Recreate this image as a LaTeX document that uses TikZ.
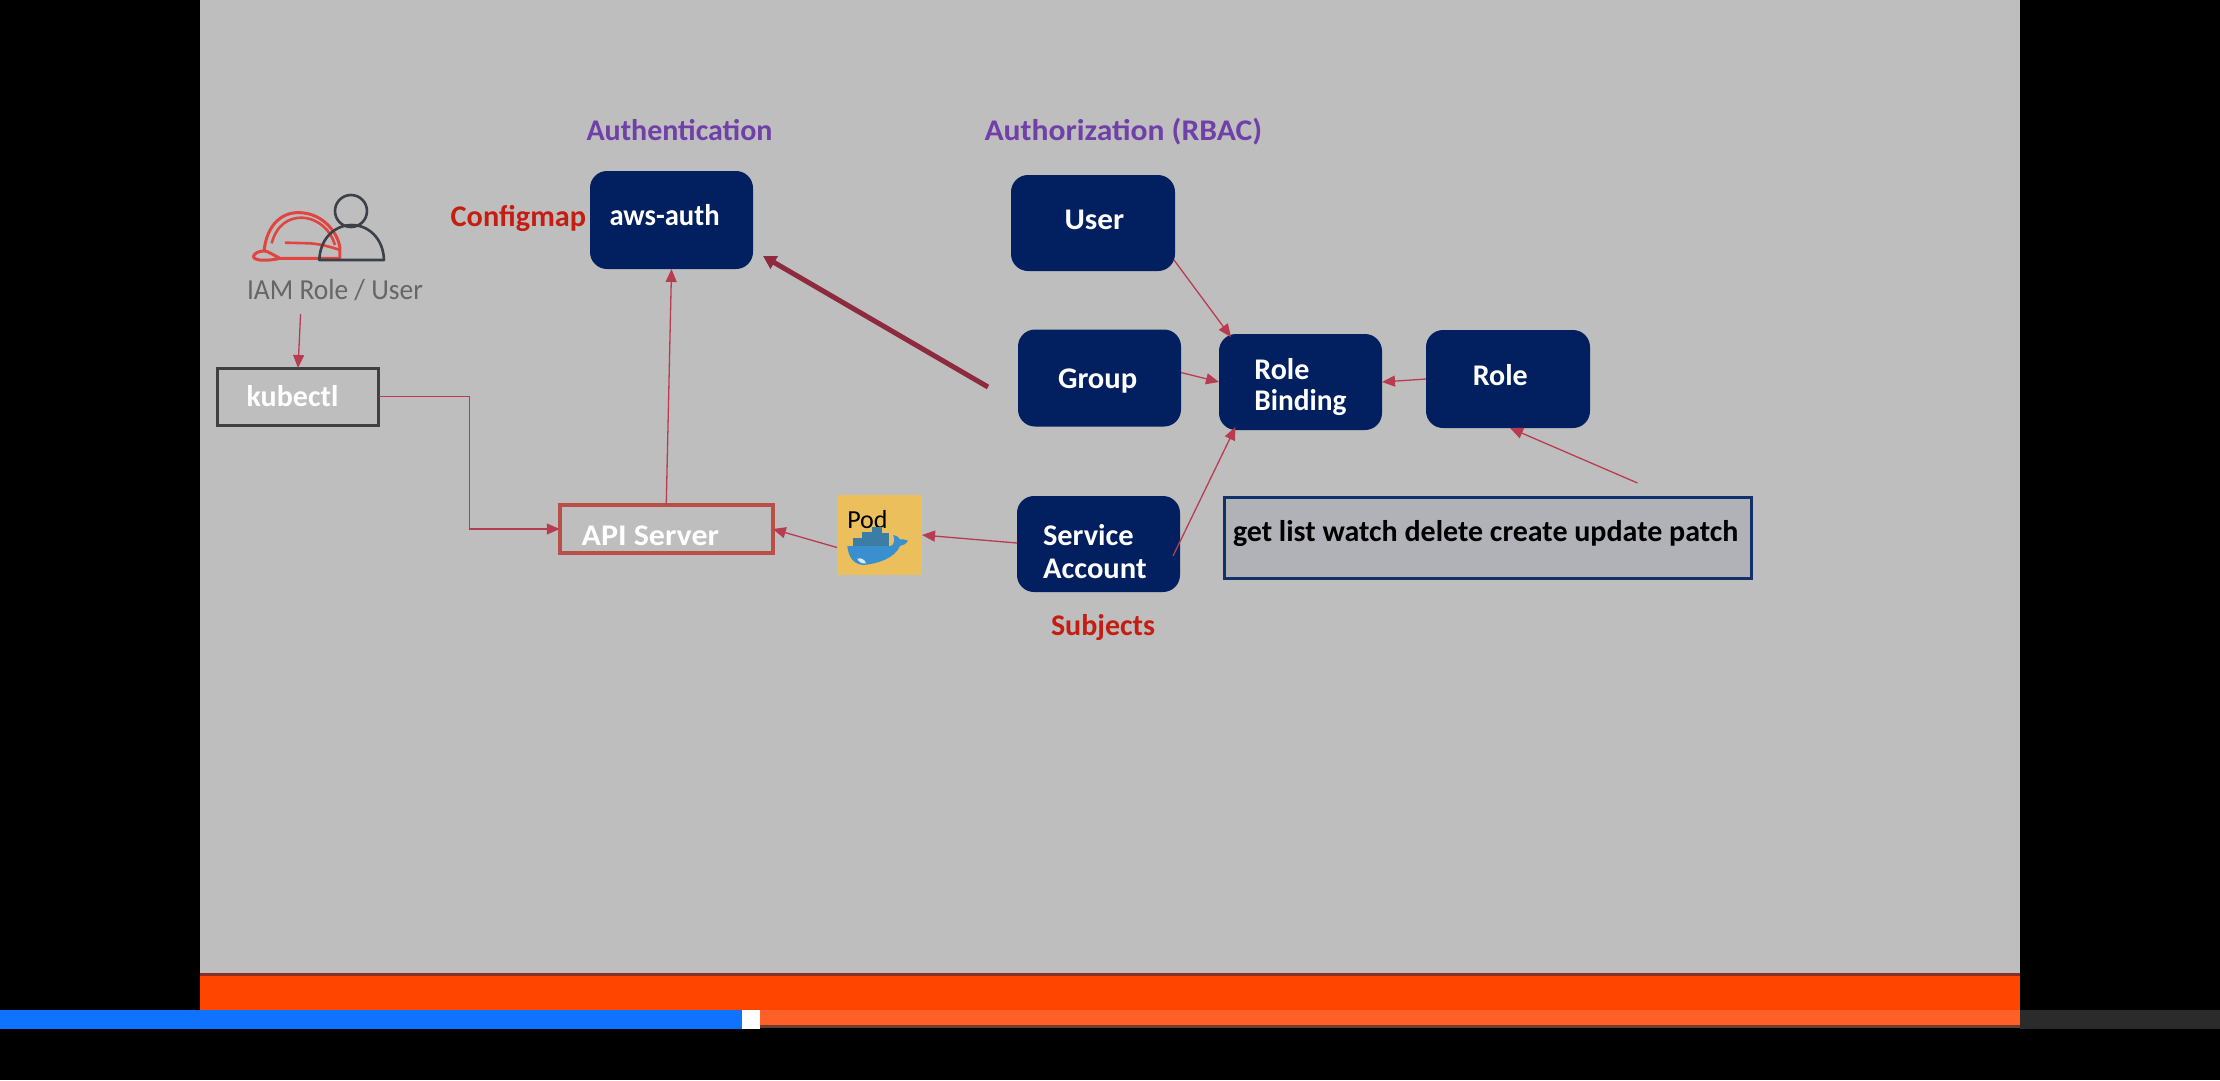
\documentclass[tikz,border=0pt]{standalone}
\usepackage{graphicx}
\usepackage{fontspec}
\setmainfont{Carlito}
\usetikzlibrary{arrows.meta}
\definecolor{navybox}{HTML}{02205F}
\definecolor{canvas}{HTML}{BEBEBE}
\definecolor{purp}{HTML}{7040A8}
\definecolor{redtxt}{HTML}{C41E12}
\definecolor{conn}{HTML}{B83C50}
\definecolor{thickc}{HTML}{8E2A3E}
\definecolor{hat}{HTML}{E0453F}
\definecolor{person}{HTML}{3C4048}
\definecolor{whale}{HTML}{3A8FCF}
\definecolor{crate}{HTML}{3C7DA6}
\definecolor{barorange}{HTML}{FF4500}
\definecolor{barline}{HTML}{8A2F28}
\definecolor{barlight}{HTML}{FF6028}
\definecolor{barfade}{HTML}{6E3C2D}
\definecolor{barblue}{HTML}{0F73FF}
\definecolor{bardark}{HTML}{2B2B2B}
\definecolor{verbfill}{HTML}{B0B2B8}
\definecolor{verbline}{HTML}{12306A}
\definecolor{podfill}{HTML}{EABF5C}
\definecolor{apiline}{HTML}{B85048}
\definecolor{kubeline}{HTML}{404040}
\definecolor{iamtxt}{HTML}{666666}
\newcommand{\sx}[2]{\scalebox{#1}[1]{#2}}
\tikzset{
  navy/.style={fill=navybox,rounded corners=17pt,inner sep=0pt,outer sep=0pt},
  txt/.style={anchor=base west,inner sep=0pt,outer sep=0pt,font=\fontsize{30}{34}\selectfont\bfseries},
  wtxt/.style={txt,text=white},
  rtxt/.style={txt,text=redtxt},
  ptxt/.style={txt,text=purp},
  link/.style={draw=conn,line width=1.3pt,-{Triangle[length=13pt,width=11pt]}},
  plainbox/.style={inner sep=0pt,outer sep=0pt},
}
\begin{document}
\begin{tikzpicture}[x=1pt,y=-1pt]
\useasboundingbox (0,0) rectangle (2220,1080);
\fill[black] (0,0) rectangle (2220,1080);
\fill[canvas] (200,0) rectangle (2020,974);
\fill[barorange] (200,974) rectangle (2020,1010);
\fill[barline] (200,973) rectangle (2020,975.5);
\fill[barlight] (760,1010) rectangle (2020,1025);
\fill[barfade] (760,1025) rectangle (2020,1028);
\fill[barblue] (0,1010) rectangle (742,1029);
\fill[white] (742,1010) rectangle (760,1029);
\fill[bardark] (2020,1010) rectangle (2220,1029);

% boxes
\node[navy,minimum width=163pt,minimum height=98pt] (aws) at (671.5,220) {};
\node[navy,minimum width=164pt,minimum height=96pt] (user) at (1093,223) {};
\node[navy,minimum width=163pt,minimum height=97pt] (group) at (1099.5,378) {};
\node[navy,minimum width=163pt,minimum height=96pt] (rb) at (1300.5,382) {};
\node[navy,minimum width=164pt,minimum height=98pt] (role) at (1508,379) {};
\node[navy,minimum width=163pt,minimum height=96pt] (sa) at (1098.5,544) {};
\node[plainbox,fill=verbfill,draw=verbline,line width=3pt,minimum width=527pt,minimum height=81pt] (verb) at (1488,538) {};
\node[plainbox,draw=kubeline,line width=3pt,minimum width=161pt,minimum height=57pt] (kubectl) at (298,396.5) {};
\node[plainbox,draw=apiline,line width=3.5pt,minimum width=213pt,minimum height=48pt] (api) at (666.25,529) {};
\node[plainbox,fill=podfill,minimum width=85pt,minimum height=80pt] (pod) at (879.5,535) {};

% texts
\node[ptxt] (tauthn) at (586.5,140.5) {Authentication};
\node[ptxt] (tauthz) at (984.5,140.5) {\sx{1.054}{Authorization (RBAC)}};
\node[rtxt] (tcm) at (450.7,226) {\sx{1.01}{Configmap}};
\node[wtxt] (taws) at (609.5,225.5) {\sx{0.955}{aws-auth}};
\node[txt,text=iamtxt,font=\fontsize{29}{34}\selectfont] (tiam) at (247,299) {\sx{0.947}{IAM Role / User}};
\node[wtxt] (tkube) at (246.7,406.5) {kubectl};
\node[wtxt] (tapi) at (581.6,545.5) {\sx{1.067}{API Server}};
\node[wtxt] (tsvc) at (1043,545) {\sx{1.015}{Service}};
\node[wtxt] (tacc) at (1043,578) {\sx{1.02}{Account}};
\node[rtxt] (tsub) at (1051,635) {Subjects};
\node[wtxt] (tuser) at (1064.6,229) {\sx{1.04}{User}};
\node[wtxt] (tgroup) at (1058,388) {\sx{1.02}{Group}};
\node[wtxt] (trb1) at (1254.4,379.5) {Role};
\node[wtxt] (trb2) at (1254.4,410.5) {\sx{0.98}{Binding}};
\node[wtxt] (trole) at (1472.8,385) {Role};
\node[txt,text=black] (tverb) at (1233,541.5) {get list watch delete create update patch};

% person + hard hat icon
\begin{scope}[shift={(240,180)},x=0.3333pt,y=-0.3333pt]
  \draw[hat,line width=3pt,line join=round]
    (72,215) .. controls (80,130) and (130,95) .. (180,98)
    .. controls (250,100) and (295,160) .. (300,205) -- (300,235) -- (120,235)
    .. controls (90,242) and (45,245) .. (40,230)
    .. controls (42,218) and (62,212) .. (75,213)
    .. controls (85,215) and (95,222) .. (120,235);
  \draw[hat,line width=2.6pt]
    (95,190) .. controls (110,135) and (145,113) .. (185,113)
    .. controls (235,115) and (272,150) .. (285,195);
  \draw[hat,line width=2.6pt]
    (135,188) -- (210,190) .. controls (240,192) and (270,200) .. (300,210);
  \draw[person,line width=2.6pt] (333,93) circle (48);
  \draw[person,line width=2.6pt,line join=round]
    (238,240) .. controls (240,175) and (285,135) .. (335,135)
    .. controls (385,135) and (430,175) .. (432,240) -- cycle;
\end{scope}

% pod whale
\node[txt,text=black,font=\fontsize{26}{30}\selectfont] (tpod) at (847.3,528.5) {Pod};
\begin{scope}[shift={(820,480)},x=0.3333pt,y=-0.3333pt]
  \fill[crate] (100,175) rectangle (128,200);
  \fill[crate] (125,157) rectangle (158,200);
  \fill[crate] (155,140) rectangle (185,200);
  \fill[crate] (183,160) rectangle (208,200);
  \fill[whale] (82,198) -- (212,198)
    .. controls (224,195) and (224,178) .. (220,165)
    .. controls (232,168) and (236,172) .. (240,178)
    .. controls (248,178) and (256,178) .. (264,182)
    .. controls (258,192) and (250,196) .. (240,198)
    .. controls (225,235) and (170,252) .. (130,255)
    .. controls (95,252) and (85,225) .. (82,198) -- cycle;
  \fill[white!80!whale] (112,236) .. controls (125,232) and (135,240) .. (138,250) .. controls (125,252) and (115,245) .. (112,236) -- cycle;
\end{scope}

% connectors
\coordinate (iamout) at (300.6,314);
\draw[link] (iamout) -- (kubectl.north);
\draw[link] (kubectl.east) -- ++(91,0) |- (api.west);
\draw[link] (api.north) -- (aws.south);
\coordinate (thickfrom) at (988,387);
\coordinate (thickto) at (763,256);
\draw[draw=thickc,line width=5pt,-{Triangle[length=13pt,width=14pt]}] (thickfrom) -- (thickto);
\draw[link] ([yshift=-12.5pt]pod.west) -- (api.east);
\draw[link] ([yshift=1pt]sa.west) -- (pod.east);
\draw[link] ([xshift=-7pt,yshift=-12pt]sa.east) -- ([xshift=-65pt,yshift=3pt]rb.south);
\draw[link] ([xshift=-1pt,yshift=-37pt]user.east) -- ([xshift=-69.5pt,yshift=-3pt]rb.north);
\draw[link] ([yshift=5.5pt]group.east) -- (rb.west);
\draw[link] (role.west) -- (rb.east);
\draw[link] ([xshift=149.5pt,yshift=14.5pt]verb.north) -- ([xshift=2pt]role.south);
\end{tikzpicture}
\end{document}
